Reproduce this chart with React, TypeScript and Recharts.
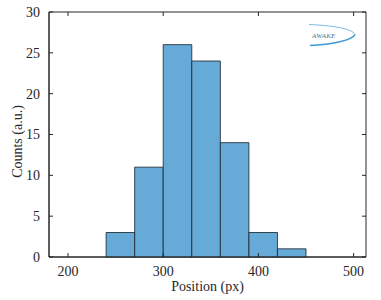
import React from 'react';
import {
  ComposedChart,
  XAxis,
  YAxis,
  ReferenceArea,
  Label,
  Customized,
} from 'recharts';

// ---------------------------------------------------------------------------
// Data
// ---------------------------------------------------------------------------

const BIN_EDGES = [240, 270, 300, 330, 360, 390, 420, 450];
const BIN_COUNTS = [3, 11, 26, 24, 14, 3, 1];
const X_TICKS = [200, 300, 400, 500];
const Y_TICKS = [0, 5, 10, 15, 20, 25, 30];
const X_DOMAIN = [180, 513];
const Y_DOMAIN = [0, 30];

const bins = BIN_COUNTS.map((count, i) => ({
  x0: BIN_EDGES[i],
  x1: BIN_EDGES[i + 1],
  count,
}));

// ---------------------------------------------------------------------------
// Layout / style
// ---------------------------------------------------------------------------

const W = 381;
const H = 300;
const MARGIN = { top: 12, right: 15, left: 0, bottom: 0 };
const Y_AXIS_W = 49;
const X_AXIS_H = 43;
const PLOT_TOP = MARGIN.top;
const PLOT_BOTTOM = H - MARGIN.bottom - X_AXIS_H;
const PLOT_LEFT = MARGIN.left + Y_AXIS_W;
const PLOT_RIGHT = W - MARGIN.right;
const TICK_LEN = 4;

const FONT = '"Liberation Serif", "Times New Roman", serif';
const AXIS_COLOR = '#262626';
const TEXT_COLOR = '#262626';

// ticks point inward, mirrored on the opposite side (matlab box style)
const XTick = (props: any) => {
  const { x, y, payload } = props;
  return (
    <g>
      <line x1={x} x2={x} y1={PLOT_BOTTOM} y2={PLOT_BOTTOM - TICK_LEN} stroke={AXIS_COLOR} />
      <line x1={x} x2={x} y1={PLOT_TOP} y2={PLOT_TOP + TICK_LEN} stroke={AXIS_COLOR} />
      <text
        x={x}
        y={y}
        dy="0.71em"
        textAnchor="middle"
        fontSize={14}
        fontFamily={FONT}
        fill={TEXT_COLOR}
      >
        {payload.value}
      </text>
    </g>
  );
};

const YTick = (props: any) => {
  const { x, y, payload } = props;
  return (
    <g>
      <line x1={PLOT_LEFT} x2={PLOT_LEFT + TICK_LEN} y1={y} y2={y} stroke={AXIS_COLOR} />
      <line x1={PLOT_RIGHT} x2={PLOT_RIGHT - TICK_LEN} y1={y} y2={y} stroke={AXIS_COLOR} />
      <text
        x={x}
        y={y}
        dy="0.355em"
        textAnchor="end"
        fontSize={14}
        fontFamily={FONT}
        fill={TEXT_COLOR}
      >
        {payload.value}
      </text>
    </g>
  );
};

// small AWAKE swoosh in the top right corner
const AwakeLogo = () => (
  <g>
    <path
      d="M309,24.5 C330,25.5 352,28 355,34.5"
      fill="none"
      stroke="#56a8dc"
      strokeWidth={0.8}
    />
    <path
      d="M355,34.5 C352,41 330,44.5 310,45.5"
      fill="none"
      stroke="#3d9ad6"
      strokeWidth={1.6}
    />
    <text
      x={312}
      y={37.5}
      fontSize={7}
      fontStyle="italic"
      fontFamily={FONT}
      fill="#4f6f92"
      letterSpacing={0.2}
    >
      AWAKE
    </text>
  </g>
);

// ---------------------------------------------------------------------------
// Component
// ---------------------------------------------------------------------------

export default function App() {
  return (
    <div style={{ position: 'absolute', left: 0, top: 0, width: W, height: H, background: '#fff' }}>
      <ComposedChart width={W} height={H} data={bins} margin={MARGIN}>
        <XAxis
          xAxisId="b"
          type="number"
          dataKey="x0"
          domain={X_DOMAIN}
          ticks={X_TICKS}
          allowDataOverflow
          height={X_AXIS_H}
          stroke={AXIS_COLOR}
          tickLine={false}
          tickSize={0}
          tickMargin={9}
          tick={<XTick />}
        >
          <Label
            value="Position (px)"
            position="insideBottom"
            offset={9}
            style={{ fontSize: 14, fill: TEXT_COLOR, fontFamily: FONT }}
          />
        </XAxis>
        <YAxis
          yAxisId="l"
          type="number"
          dataKey="count"
          domain={Y_DOMAIN}
          ticks={Y_TICKS}
          allowDataOverflow
          width={Y_AXIS_W}
          stroke={AXIS_COLOR}
          tickLine={false}
          tickSize={0}
          tickMargin={9}
          tick={<YTick />}
        >
          <Label
            value="Counts (a.u.)"
            angle={-90}
            position="insideLeft"
            offset={17}
            dy={7}
            style={{ fontSize: 14, fill: TEXT_COLOR, fontFamily: FONT, textAnchor: 'middle' }}
          />
        </YAxis>
        {/* axes box */}
        <ReferenceArea
          xAxisId="b"
          yAxisId="l"
          x1={X_DOMAIN[0]}
          x2={X_DOMAIN[1]}
          y1={Y_DOMAIN[0]}
          y2={Y_DOMAIN[1]}
          fill="none"
          stroke={AXIS_COLOR}
          strokeWidth={1}
        />
        {bins.map((b) => (
          <ReferenceArea
            key={b.x0}
            xAxisId="b"
            yAxisId="l"
            x1={b.x0}
            x2={b.x1}
            y1={0}
            y2={b.count}
            fill="#66aad7"
            fillOpacity={1}
            stroke="#1f2a33"
            strokeWidth={1}
            strokeOpacity={0.85}
          />
        ))}
        <Customized component={AwakeLogo} />
      </ComposedChart>
    </div>
  );
}
